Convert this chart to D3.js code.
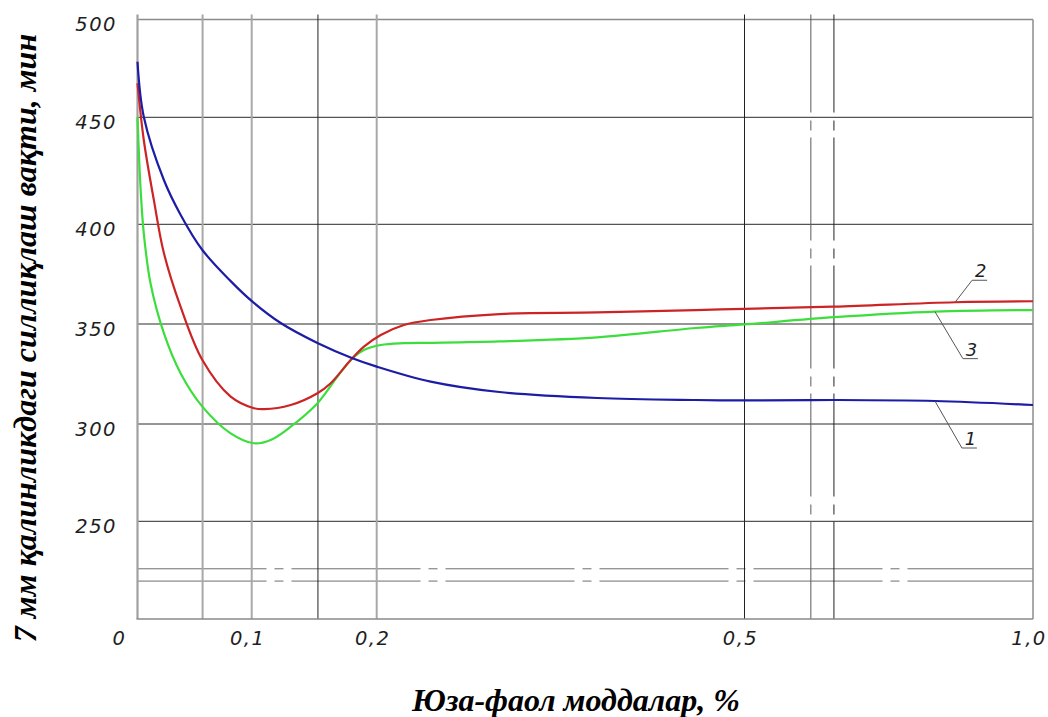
<!DOCTYPE html>
<html>
<head>
<meta charset="utf-8">
<script src="https://cdn.jsdelivr.net/npm/d3@7"></script>
<style>
  html, body { margin: 0; padding: 0; background: #fff; }
  svg { display: block; }
</style>
</head>
<body>
<svg id="chart" width="1048" height="717"></svg>
<script>
// ---------------- DATA ----------------
const xTickValues = [0, 0.1, 0.2, 0.5, 1.0];
const xTickLabels = ["0", "0,1", "0,2", "0,5", "1,0"];
const yTickValues = [250, 300, 350, 400, 450, 500];
const yTickLabels = ["250", "300", "350", "400", "450", "500"];
const extraVerticals = [0.057, 0.153, 0.615, 0.655];
const refLines = [225.7, 219.4];

const xTitle = "Юза-фаол моддалар, %";
const yTitle = "7 мм қалинликдаги силлиқлаш вақти, мин";

const seriesNames = ["1", "2", "3"];

const curve1X = [0, 0.0055, 0.0231, 0.0377, 0.0568, 0.0816, 0.1006, 0.1232, 0.153, 0.1806, 0.2, 0.244, 0.30, 0.38, 0.46, 0.5, 0.655, 0.83, 1.0];
const curve1Y = [478.4, 450.3, 420.7, 404.5, 387.1, 371.5, 361.2, 350.5, 340.4, 332.9, 328.7, 321.2, 316, 313, 312, 311.8, 312, 311.5, 309.5];

const curve2X = [0, 0.0055, 0.0143, 0.0231, 0.0377, 0.0568, 0.0816, 0.1018, 0.1098, 0.1312, 0.1526, 0.1632, 0.1792, 0.1898, 0.2033, 0.2222, 0.244, 0.30, 0.38, 0.46, 0.5, 0.656, 0.865, 1.0];
const curve2Y = [467.4, 439.4, 411.4, 385.6, 358.7, 332, 313.7, 307.9, 307.4, 309.5, 315.4, 320.4, 332, 338.7, 344.5, 349.5, 352, 355, 355.8, 357, 357.6, 358.7, 360.9, 361.4];

const curve3X = [0, 0.0026, 0.0055, 0.0114, 0.0231, 0.0377, 0.0568, 0.0816, 0.1018, 0.1152, 0.1312, 0.1526, 0.1686, 0.1806, 0.1898, 0.2033, 0.2222, 0.244, 0.30, 0.38, 0.46, 0.5, 0.656, 0.83, 1.0];
const curve3Y = [450, 417.6, 395.5, 370.4, 345.4, 325.4, 308.7, 295.2, 290.1, 291.8, 298.6, 310.4, 323.7, 332.9, 337, 339.5, 340.4, 340.6, 341.3, 343.3, 348, 349.8, 353.4, 356.2, 357];

// where each numbered leader leaves its curve (x in data units)
const leaderAt = [0.83, 0.865, 0.83];

// ---------------- DRAW ----------------
const svg = d3.select("#chart");
svg.append("rect").attr("width", 1048).attr("height", 717).attr("fill", "#fff");

// non-uniform axes of the original drawing (piecewise-linear scales)
const x = d3.scaleLinear()
  .domain([0, 0.1, 0.2, 0.5, 1.0])
  .range([137.5, 251.7, 376.7, 744.5, 1033]);
const y = d3.scaleLinear()
  .domain([200, 250, 300, 350, 400, 450, 500])
  .range([619, 521.3, 424, 324, 224.3, 117.3, 19.5]);

const pTop = y(500), pBottom = y(200), pLeft = x(0), pRight = x(1.0);
const g = svg.append("g");

// horizontal grid
g.selectAll("line.hgrid").data(yTickValues).join("line")
  .attr("class", "hgrid")
  .attr("x1", pLeft).attr("x2", pRight)
  .attr("y1", d => y(d)).attr("y2", d => y(d))
  .attr("stroke", d => d === 500 ? "#8a8a8a" : "#2a2a2a")
  .attr("stroke-width", d => d === 500 ? 1.3 : 1);

// double reference lines with dash-dot breaks
g.selectAll("line.ref").data(refLines).join("line")
  .attr("class", "ref")
  .attr("x1", pLeft).attr("x2", pRight)
  .attr("y1", d => y(d)).attr("y2", d => y(d))
  .attr("stroke", "#6e6e6e").attr("stroke-width", 1)
  .attr("stroke-dasharray", "129,8,9,8");

// vertical grid
const verticals = xTickValues.concat(extraVerticals).sort((a, b) => a - b);
function vStyle(d) {
  if (d === 0) return { c: "#a0a0a0", w: 2.2 };
  if (d === 1.0) return { c: "#8c8c8c", w: 1.5 };
  if (d === 0.057 || d === 0.1 || d === 0.2) return { c: "#a8a8a8", w: 2 };
  if (d === 0.615) return { c: "#5a5a5a", w: 1 };
  return { c: "#222", w: 1 };
}
const isDashDot = d => d === 0.615 || d === 0.655;
g.selectAll("line.vgrid").data(verticals).join("line")
  .attr("class", "vgrid")
  .attr("x1", d => x(d)).attr("x2", d => x(d))
  .attr("y1", d => (d === 1.0 ? pTop : pTop - 5)).attr("y2", pBottom)
  .attr("stroke", d => vStyle(d).c)
  .attr("stroke-width", d => vStyle(d).w)
  .attr("stroke-dasharray", d => isDashDot(d) ? "103,8,10,7" : null)
  .attr("stroke-dashoffset", d => isDashDot(d) ? 5 : null);

// bottom border
g.append("line")
  .attr("x1", pLeft - 1).attr("x2", pRight)
  .attr("y1", pBottom).attr("y2", pBottom)
  .attr("stroke", "#8a8a8a").attr("stroke-width", 1.6);

// tick labels
const tickFont = "'DejaVu Sans', sans-serif";
g.selectAll("text.ylab").data(yTickValues).join("text")
  .attr("class", "ylab")
  .attr("x", 117).attr("y", d => y(d) + 11.5)
  .attr("text-anchor", "end")
  .attr("font-family", tickFont).attr("font-style", "italic")
  .attr("font-size", 19.5).attr("letter-spacing", 1.5)
  .attr("fill", "#1e1e1e")
  .text((d, i) => yTickLabels[i]);

g.selectAll("text.xlab").data(xTickValues).join("text")
  .attr("class", "xlab")
  .attr("x", (d, i) => i === 0 ? x(d) - 11 : x(d) - 4)
  .attr("y", 645)
  .attr("text-anchor", (d, i) => i === 0 ? "end" : "middle")
  .attr("font-family", tickFont).attr("font-style", "italic")
  .attr("font-size", 19.5).attr("letter-spacing", 1.5)
  .attr("fill", "#1e1e1e")
  .text((d, i) => xTickLabels[i]);

// curves
const seriesX = [curve1X, curve2X, curve3X];
const seriesY = [curve1Y, curve2Y, curve3Y];
const colors = ["#1c1ca6", "#cc2424", "#3cde3c"];
const line = d3.line().x(d => x(d[0])).y(d => y(d[1])).curve(d3.curveCatmullRom.alpha(0.5));
const drawOrder = [2, 1, 0];
drawOrder.forEach(i => {
  const pts = seriesX[i].map((v, k) => [v, seriesY[i][k]]);
  g.append("path").datum(pts)
    .attr("d", line)
    .attr("fill", "none")
    .attr("stroke", colors[i])
    .attr("stroke-width", 2.2)
    .attr("stroke-linejoin", "round");
});

// numbered leaders
const leaderShape = [
  { dx: 27, dy: 47, under: 15 },   // 1
  { dx: 17, dy: -22, under: 15 },  // 2
  { dx: 28, dy: 47, under: 15 }    // 3
];
seriesNames.forEach((name, i) => {
  const k = seriesX[i].indexOf(leaderAt[i]);
  const sx = x(seriesX[i][k]), sy = y(seriesY[i][k]);
  const s = leaderShape[i];
  const ex = sx + s.dx, ey = sy + s.dy;
  g.append("path")
    .attr("d", `M${sx},${sy}L${ex},${ey}L${ex + s.under},${ey}`)
    .attr("fill", "none").attr("stroke", "#555").attr("stroke-width", 1);
  g.append("text")
    .attr("x", ex + s.under / 2 + 1).attr("y", ey - 3)
    .attr("text-anchor", "middle")
    .attr("font-family", tickFont).attr("font-style", "italic")
    .attr("font-size", 18).attr("fill", "#1e1e1e")
    .text(name);
});

// axis titles
const titleFont = "'Liberation Serif', 'Times New Roman', serif";
svg.append("text")
  .attr("x", 576).attr("y", 711)
  .attr("text-anchor", "middle")
  .attr("font-family", titleFont).attr("font-style", "italic").attr("font-weight", "bold")
  .attr("font-size", 32).attr("fill", "#000")
  .text(xTitle);

svg.append("text")
  .attr("transform", "translate(36,338) rotate(-90)")
  .attr("text-anchor", "middle")
  .attr("font-family", titleFont).attr("font-style", "italic").attr("font-weight", "bold")
  .attr("font-size", 32).attr("fill", "#000")
  .text(yTitle);
</script>
</body>
</html>
